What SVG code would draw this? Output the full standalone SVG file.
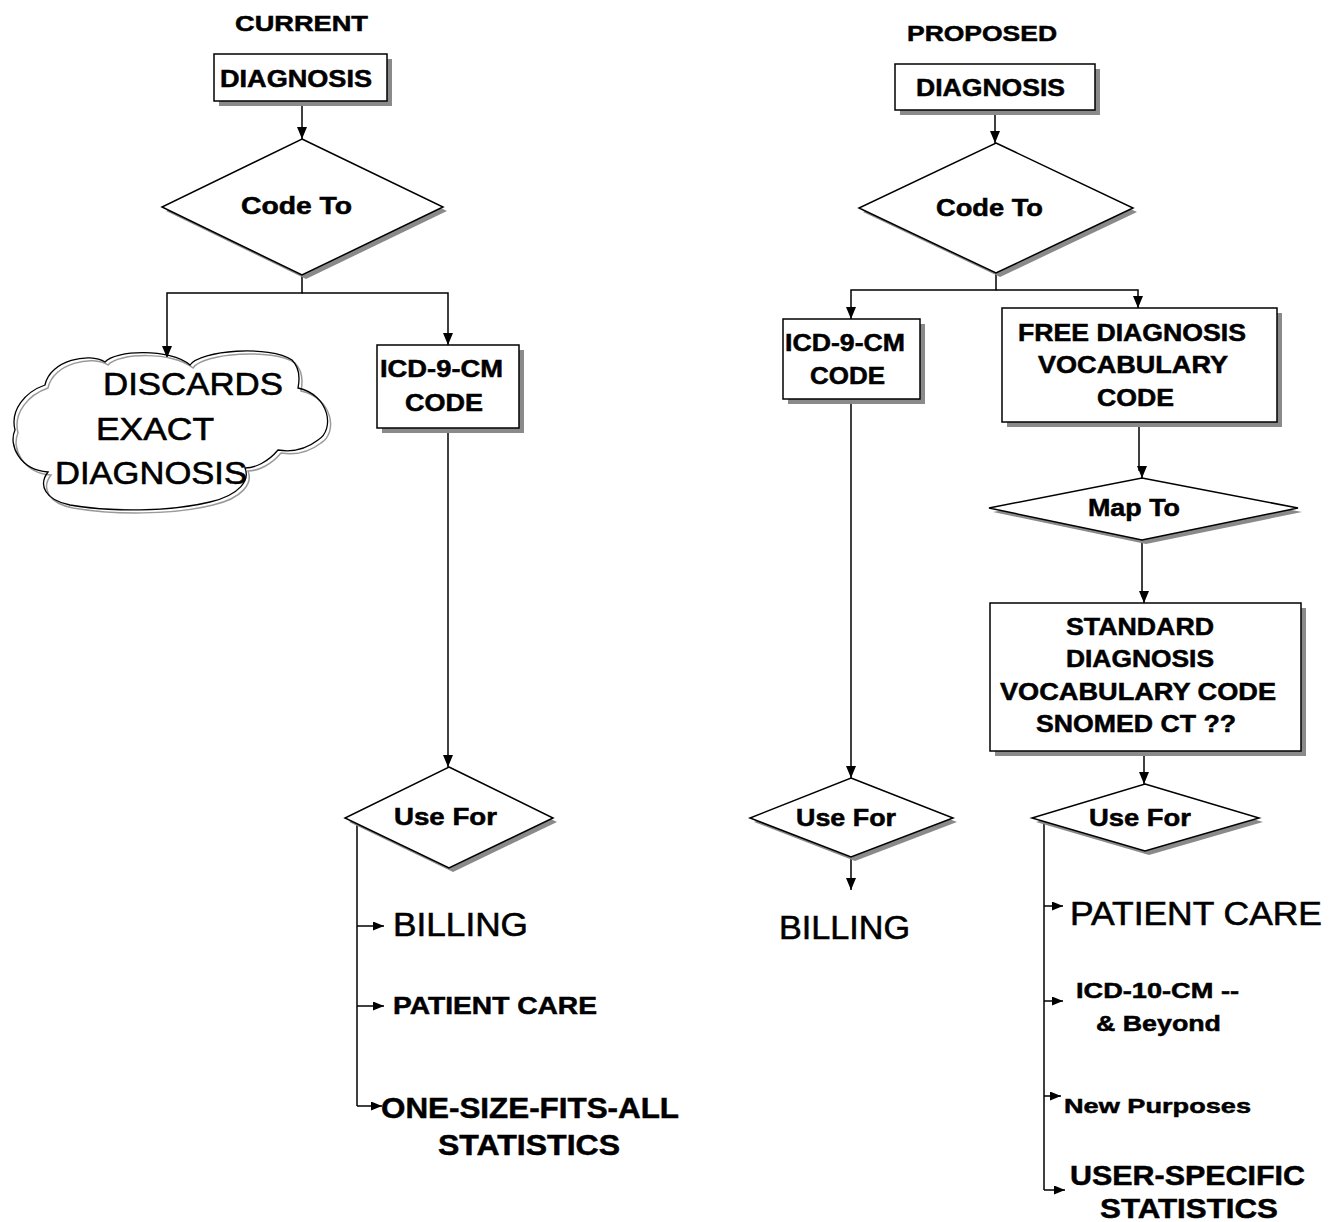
<svg xmlns="http://www.w3.org/2000/svg" width="1341" height="1222" viewBox="0 0 1341 1222">
<style>
text{font-family:"Liberation Sans",Arial,sans-serif;fill:#000;stroke:#000;stroke-width:0.6}
.b{font-weight:bold;stroke-width:0.5}
.box{fill:#fff;stroke:#000;stroke-width:1.5}
.sh{fill:#8a8a8a;stroke:none}
.ln{fill:none;stroke:#000;stroke-width:1.5}
</style>
<defs>
<marker id="ah" viewBox="0 0 12 10" refX="12" refY="5" markerWidth="12" markerHeight="10" orient="auto" markerUnits="userSpaceOnUse"><path d="M0,0 L12,5 L0,10 z" fill="#000"/></marker>
<marker id="as" viewBox="0 0 11 9" refX="11" refY="4.5" markerWidth="11" markerHeight="9" orient="auto" markerUnits="userSpaceOnUse"><path d="M0,0 L11,4.5 L0,9 z" fill="#000"/></marker>
</defs>
<rect width="1341" height="1222" fill="#fff"/>

<text class="b" x="235" y="31" font-size="22" textLength="133" lengthAdjust="spacingAndGlyphs">CURRENT</text>
<text class="b" x="907" y="41" font-size="22" textLength="150" lengthAdjust="spacingAndGlyphs">PROPOSED</text>

<g id="connectors">
<path class="ln" d="M302,101 V139" marker-end="url(#ah)"/>
<path class="ln" d="M302,275 V293 H167 V358" marker-end="url(#ah)"/>
<path class="ln" d="M302,293 H448 V345" marker-end="url(#ah)"/>
<path class="ln" d="M448,428 V767" marker-end="url(#ah)"/>
<path class="ln" d="M357,824 V1106"/>
<path class="ln" d="M357,926 H384" marker-end="url(#as)"/>
<path class="ln" d="M357,1006 H384" marker-end="url(#as)"/>
<path class="ln" d="M357,1106 H382" marker-end="url(#as)"/>
<path class="ln" d="M995,110 V143" marker-end="url(#ah)"/>
<path class="ln" d="M996,273 V290 H851 V319" marker-end="url(#ah)"/>
<path class="ln" d="M996,290 H1138 V308" marker-end="url(#ah)"/>
<path class="ln" d="M1139,422 V470 H1142 V478" marker-end="url(#ah)"/>
<path class="ln" d="M1142,540 V596 H1144 V603" marker-end="url(#ah)"/>
<path class="ln" d="M1144,751 V784" marker-end="url(#ah)"/>
<path class="ln" d="M851,399 V778" marker-end="url(#ah)"/>
<path class="ln" d="M851,857 V890" marker-end="url(#ah)"/>
<path class="ln" d="M1044,822 V1190"/>
<path class="ln" d="M1044,906 H1063" marker-end="url(#as)"/>
<path class="ln" d="M1044,1001 H1063" marker-end="url(#as)"/>
<path class="ln" d="M1044,1096 H1061" marker-end="url(#as)"/>
<path class="ln" d="M1044,1190 H1065" marker-end="url(#as)"/>
</g>

<g id="cur-diagnosis">
<rect class="sh" x="219" y="59" width="173" height="47"/>
<rect class="box" x="214" y="54" width="173" height="47"/>
<text class="b" x="220" y="87" font-size="23" textLength="152" lengthAdjust="spacingAndGlyphs">DIAGNOSIS</text>
</g>

<g id="cur-codeto">
<polygon class="sh" points="306,143 447,211 306,279 166,211"/>
<polygon class="box" points="302,139 443,207 302,275 162,207"/>
<text class="b" x="241" y="214" font-size="23" textLength="111" lengthAdjust="spacingAndGlyphs">Code To</text>
</g>

<g id="cur-discards">
<path d="M45,385 C50,360 90,352 105,362 C115,350 170,348 190,365 C200,350 270,345 292,360 C300,368 300,378 298,388 C330,395 335,430 318,440 C305,450 290,452 278,450 C268,462 255,468 245,468 C250,480 240,495 210,502 C170,512 110,512 70,505 C45,500 38,485 48,472 C20,470 8,445 15,430 C10,410 25,392 45,385 Z" fill="none" stroke="#9a9a9a" stroke-width="1.5" transform="translate(3,3)"/>
<path d="M45,385 C50,360 90,352 105,362 C115,350 170,348 190,365 C200,350 270,345 292,360 C300,368 300,378 298,388 C330,395 335,430 318,440 C305,450 290,452 278,450 C268,462 255,468 245,468 C250,480 240,495 210,502 C170,512 110,512 70,505 C45,500 38,485 48,472 C20,470 8,445 15,430 C10,410 25,392 45,385 Z" fill="none" stroke="#000" stroke-width="1.3"/>
<text x="103" y="395" font-size="32" textLength="180" lengthAdjust="spacingAndGlyphs">DISCARDS</text>
<text x="96" y="440" font-size="32" textLength="118" lengthAdjust="spacingAndGlyphs">EXACT</text>
<text x="55" y="484" font-size="32" textLength="192" lengthAdjust="spacingAndGlyphs">DIAGNOSIS</text>
</g>

<g id="cur-icd">
<rect class="sh" x="382" y="350" width="142" height="83"/>
<rect class="box" x="377" y="345" width="142" height="83"/>
<text class="b" x="380" y="377" font-size="23" textLength="123" lengthAdjust="spacingAndGlyphs">ICD-9-CM</text>
<text class="b" x="405" y="411" font-size="23" textLength="78" lengthAdjust="spacingAndGlyphs">CODE</text>
</g>

<g id="cur-usefor">
<polygon class="sh" points="453,771 557,822 453,872 349,822"/>
<polygon class="box" points="449,767 553,818 449,868 345,818"/>
<text class="b" x="394" y="825" font-size="23" textLength="103" lengthAdjust="spacingAndGlyphs">Use For</text>
</g>

<g id="cur-billing"><text x="393" y="936" font-size="34" textLength="135" lengthAdjust="spacingAndGlyphs">BILLING</text></g>
<g id="cur-patientcare"><text class="b" x="393" y="1014" font-size="24" textLength="204" lengthAdjust="spacingAndGlyphs">PATIENT CARE</text></g>
<g id="cur-stats">
<text class="b" x="381" y="1118" font-size="29" textLength="298" lengthAdjust="spacingAndGlyphs">ONE-SIZE-FITS-ALL</text>
<text class="b" x="438" y="1155" font-size="29" textLength="182" lengthAdjust="spacingAndGlyphs">STATISTICS</text>
</g>

<g id="prop-diagnosis">
<rect class="sh" x="900" y="69" width="200" height="46"/>
<rect class="box" x="895" y="64" width="200" height="46"/>
<text class="b" x="916" y="96" font-size="24" textLength="149" lengthAdjust="spacingAndGlyphs">DIAGNOSIS</text>
</g>

<g id="prop-codeto">
<polygon class="sh" points="1000,147 1137,212 1000,277 863,212"/>
<polygon class="box" points="996,143 1133,208 996,273 859,208"/>
<text class="b" x="936" y="216" font-size="23" textLength="107" lengthAdjust="spacingAndGlyphs">Code To</text>
</g>

<g id="prop-icd">
<rect class="sh" x="788" y="324" width="137" height="80"/>
<rect class="box" x="783" y="319" width="137" height="80"/>
<text class="b" x="785" y="351" font-size="23" textLength="120" lengthAdjust="spacingAndGlyphs">ICD-9-CM</text>
<text class="b" x="810" y="384" font-size="23" textLength="75" lengthAdjust="spacingAndGlyphs">CODE</text>
</g>

<g id="prop-free">
<rect class="sh" x="1007" y="313" width="275" height="114"/>
<rect class="box" x="1002" y="308" width="275" height="114"/>
<text class="b" x="1018" y="341" font-size="23" textLength="228" lengthAdjust="spacingAndGlyphs">FREE DIAGNOSIS</text>
<text class="b" x="1038" y="373" font-size="23" textLength="190" lengthAdjust="spacingAndGlyphs">VOCABULARY</text>
<text class="b" x="1097" y="406" font-size="23" textLength="77" lengthAdjust="spacingAndGlyphs">CODE</text>
</g>

<g id="prop-mapto">
<polygon class="sh" points="1146,482 1302,512 1146,544 993,512"/>
<polygon class="box" points="1142,478 1298,508 1142,540 989,508"/>
<text class="b" x="1088" y="516" font-size="23" textLength="92" lengthAdjust="spacingAndGlyphs">Map To</text>
</g>

<g id="prop-standard">
<rect class="sh" x="995" y="608" width="311" height="148"/>
<rect class="box" x="990" y="603" width="311" height="148"/>
<text class="b" x="1066" y="635" font-size="23" textLength="148" lengthAdjust="spacingAndGlyphs">STANDARD</text>
<text class="b" x="1066" y="667" font-size="23" textLength="148" lengthAdjust="spacingAndGlyphs">DIAGNOSIS</text>
<text class="b" x="1000" y="700" font-size="23" textLength="276" lengthAdjust="spacingAndGlyphs">VOCABULARY CODE</text>
<text class="b" x="1036" y="732" font-size="23" textLength="200" lengthAdjust="spacingAndGlyphs">SNOMED CT ??</text>
</g>

<g id="prop-usefor-billing">
<polygon class="sh" points="855,782 957,822 855,861 754,822"/>
<polygon class="box" points="851,778 953,818 851,857 750,818"/>
<text class="b" x="796" y="826" font-size="23" textLength="100" lengthAdjust="spacingAndGlyphs">Use For</text>
</g>

<g id="prop-usefor">
<polygon class="sh" points="1149,788 1263,822 1149,855 1036,822"/>
<polygon class="box" points="1145,784 1259,818 1145,851 1032,818"/>
<text class="b" x="1089" y="826" font-size="23" textLength="102" lengthAdjust="spacingAndGlyphs">Use For</text>
</g>

<g id="prop-billing"><text x="779" y="939" font-size="34" textLength="131" lengthAdjust="spacingAndGlyphs">BILLING</text></g>
<g id="prop-patientcare"><text x="1070" y="925" font-size="33" textLength="252" lengthAdjust="spacingAndGlyphs">PATIENT CARE</text></g>
<g id="prop-icd10">
<text class="b" x="1076" y="998" font-size="22" textLength="163" lengthAdjust="spacingAndGlyphs">ICD-10-CM --</text>
<text class="b" x="1096" y="1031" font-size="22" textLength="125" lengthAdjust="spacingAndGlyphs">&amp; Beyond</text>
</g>
<g id="prop-newpurposes"><text class="b" x="1064" y="1113" font-size="21" textLength="187" lengthAdjust="spacingAndGlyphs">New Purposes</text></g>
<g id="prop-userstats">
<text class="b" x="1070" y="1185" font-size="28" textLength="235" lengthAdjust="spacingAndGlyphs">USER-SPECIFIC</text>
<text class="b" x="1100" y="1218" font-size="28" textLength="178" lengthAdjust="spacingAndGlyphs">STATISTICS</text>
</g>
</svg>
